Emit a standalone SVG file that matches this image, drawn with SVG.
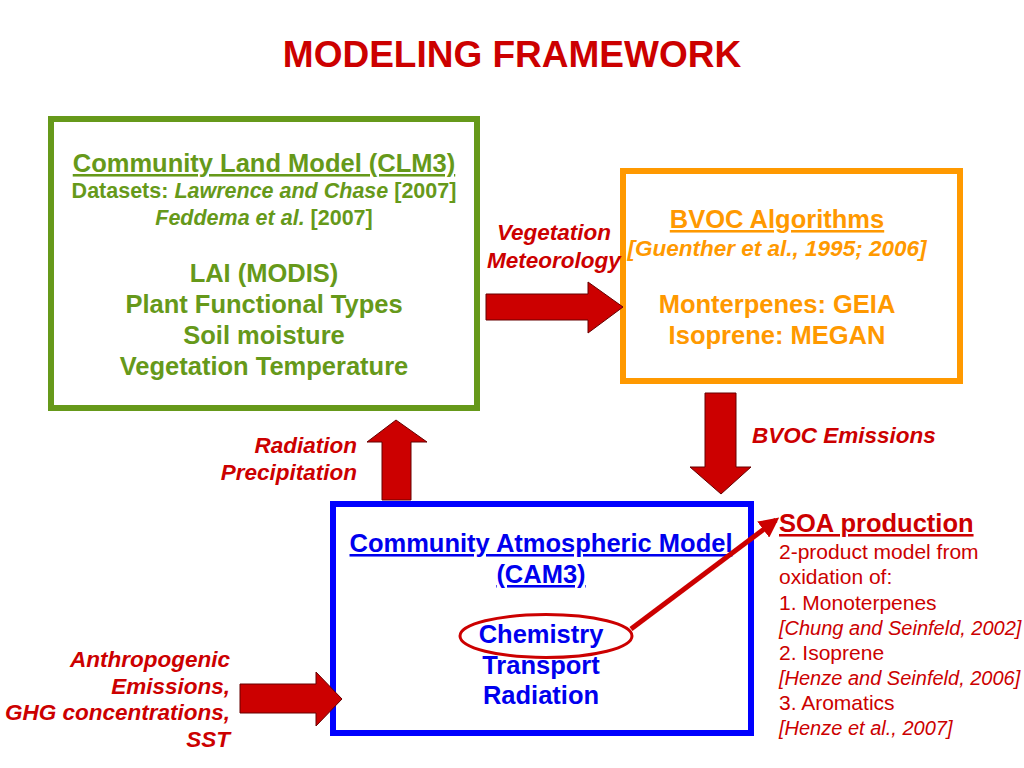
<svg xmlns="http://www.w3.org/2000/svg" width="1024" height="768" viewBox="0 0 1024 768">
<style>
text{font-family:"Liberation Sans",Arial,sans-serif;font-weight:bold}
.g{fill:#66991a}.o{fill:#ff9900}.r{fill:#cc0000}.b{fill:#0000ee}
.c{text-anchor:middle}.e{text-anchor:end}
.i{font-style:italic}.n{font-weight:normal}
.u{text-decoration:underline}
.box{fill:#fff;stroke-width:6}
.arr{fill:#cc0000;stroke:#660000;stroke-width:1}
</style>
<defs>
<marker id="ah" viewBox="0 0 10 10" refX="8" refY="5" markerWidth="4" markerHeight="4" orient="auto" markerUnits="strokeWidth">
<path d="M0,0 L10,5 L0,10 z" fill="#cc0000"/>
</marker>
</defs>
<rect width="1024" height="768" fill="#fff"/>
<text x="512" y="67" class="r c" font-size="37">MODELING FRAMEWORK</text>

<g id="clm">
<rect x="51" y="119" width="426" height="289" class="box" stroke="#66991a"/>
<text x="264" y="172" class="g c u" font-size="25.5">Community Land Model (CLM3)</text>
<text x="264" y="198" class="g c" font-size="21.5">Datasets: <tspan class="i">Lawrence and Chase</tspan> [2007]</text>
<text x="264" y="225" class="g c" font-size="21.5"><tspan class="i">Feddema et al.</tspan> [2007]</text>
<text x="264" y="282" class="g c" font-size="25.5">LAI (MODIS)</text>
<text x="264" y="313" class="g c" font-size="25.5">Plant Functional Types</text>
<text x="264" y="344" class="g c" font-size="25.5">Soil moisture</text>
<text x="264" y="375" class="g c" font-size="25.5">Vegetation Temperature</text>
</g>

<g id="bvoc">
<rect x="623" y="171" width="337" height="210" class="box" stroke="#ff9900"/>
<text x="777" y="228" class="o c u" font-size="25.5">BVOC Algorithms</text>
<text x="777" y="256" class="o c i" font-size="22.5">[Guenther et al., 1995; 2006]</text>
<text x="777" y="313" class="o c" font-size="25.5">Monterpenes: GEIA</text>
<text x="777" y="344" class="o c" font-size="25.5">Isoprene: MEGAN</text>
</g>

<g id="cam">
<rect x="333" y="504" width="418" height="229" class="box" stroke="#0000ff"/>
<text x="541" y="552" class="b c u" font-size="25.5">Community Atmospheric Model</text>
<text x="541" y="583" class="b c u" font-size="25.5">(CAM3)</text>
<text x="541" y="643" class="b c" font-size="25.5">Chemistry</text>
<text x="541" y="674" class="b c" font-size="25.5">Transport</text>
<text x="541" y="704" class="b c" font-size="25.5">Radiation</text>
<ellipse cx="546" cy="636" rx="86" ry="21.5" fill="none" stroke="#cc0000" stroke-width="3"/>
</g>

<g id="soa">
<text x="779" y="532" class="r u" font-size="25.5">SOA production</text>
<text x="779" y="559" class="r n" font-size="21">2-product model from</text>
<text x="779" y="584" class="r n" font-size="21">oxidation of:</text>
<text x="779" y="610" class="r n" font-size="21">1. Monoterpenes</text>
<text x="779" y="635" class="r n i" font-size="20">[Chung and Seinfeld, 2002]</text>
<text x="779" y="660" class="r n" font-size="21">2. Isoprene</text>
<text x="779" y="685" class="r n i" font-size="20">[Henze and Seinfeld, 2006]</text>
<text x="779" y="710" class="r n" font-size="21">3. Aromatics</text>
<text x="779" y="735" class="r n i" font-size="20">[Henze et al., 2007]</text>
</g>

<g id="labels">
<text x="554" y="240" class="r c i" font-size="22.5">Vegetation</text>
<text x="554" y="268" class="r c i" font-size="22.5">Meteorology</text>
<text x="357" y="453" class="r e i" font-size="22.5">Radiation</text>
<text x="357" y="480" class="r e i" font-size="22.5">Precipitation</text>
<text x="752" y="443" class="r i" font-size="22.5">BVOC Emissions</text>
<text x="230" y="667" class="r e i" font-size="22.5">Anthropogenic</text>
<text x="230" y="694" class="r e i" font-size="22.5">Emissions,</text>
<text x="230" y="720" class="r e i" font-size="22.5">GHG concentrations,</text>
<text x="230" y="747" class="r e i" font-size="22.5">SST</text>
</g>

<g id="connectors">
<path class="arr" d="M486,294 L588,294 L588,282 L623,307 L588,333 L588,320 L486,320 Z"/>
<path class="arr" d="M382,500 L382,442 L367,442 L396,420 L427,442 L411,442 L411,500 Z"/>
<path class="arr" d="M705,393 L736,393 L736,467 L751,467 L721,494 L690,467 L705,467 Z"/>
<path class="arr" d="M240,684 L316,684 L316,672 L342,699 L316,726 L316,713 L240,713 Z"/>
<line x1="631" y1="629" x2="776" y2="520" stroke="#cc0000" stroke-width="5" marker-end="url(#ah)"/>
</g>
</svg>
